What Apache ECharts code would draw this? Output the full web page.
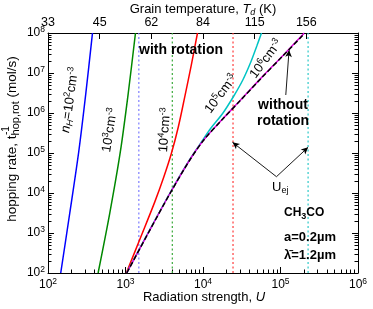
<!DOCTYPE html>
<html><head><meta charset="utf-8">
<script src="https://cdn.jsdelivr.net/npm/echarts@6/dist/echarts.min.js"></script>
<style>html,body{margin:0;padding:0;background:#fff}#c{width:373px;height:309px}</style>
</head><body><div id="c"></div>
<script>
// ---------------- data ----------------
const TEMP_LABELS = ['33', '45', '62', '84', '115', '156', ''];
const CURVE_N1E2 = [[146, 1e2], [191, 3.16e3], [249, 1.06e5], [308, 3.16e6], [375, 1e8]];
const CURVE_N1E3 = [[443, 1e2], [627, 3.16e3], [857, 1.06e5], [1086, 3.16e6], [1345, 1e8]];
const CURVE_N1E4 = [[1024, 1e2], [1575, 794], [2388, 6.0e3], [3120, 2.51e4], [3922, 1e5], [4800, 4.47e5], [5824, 2.57e6], [7063, 1.58e7], [8492, 1e8]];
const CURVE_N1E5 = [[1030, 1e2], [1950, 1e3], [3750, 1e4], [6690, 6.68e4], [9940, 2.11e5], [12610, 4.14e5], [18010, 9.84e5], [24970, 2.66e6], [32630, 6.68e6], [41390, 1.88e7], [49450, 4.73e7], [56870, 1e8]];
const CURVE_N1E6 = [[1036, 1e2], [1962, 1e3], [3772, 1e4], [6730, 6.68e4], [10200, 2.11e5], [17400, 6.68e5], [30550, 2.11e6], [55300, 7.24e6], [106200, 2.66e7], [203000, 1e8]];
const CURVE_NOROT = [[1039, 1e2], [1969, 1e3], [3784, 1e4], [6755, 6.68e4], [10240, 2.11e5], [17480, 6.68e5], [30730, 2.11e6], [55690, 7.24e6], [107100, 2.66e7], [205800, 9.83e7]];
const UEJ = { n1e2: 1486, n1e3: 4018, n1e4: 24400, n1e5: 227000 };
const Y_RANGE = [1e2, 1e8];
const X_RANGE = [1e2, 1e6];

// ---------------- helpers ----------------
const FONT = '"Liberation Sans", Arial, Helvetica, sans-serif';
const mctx = document.createElement('canvas').getContext('2d');
function tw(s, size, weight) { mctx.font = (weight || 'normal') + ' ' + size + 'px ' + FONT; return mctx.measureText(s).width; }

// minor (2..9 x decade) tick positions, expressed as exponents for overlay axes
const minorExp = (d0, d1) => { const a = []; for (let d = d0; d < d1; d++) for (let m = 2; m < 10; m++) a.push(d + Math.log10(m)); return a; };
const LX = [Math.log10(X_RANGE[0]), Math.log10(X_RANGE[1])];
const LY = [Math.log10(Y_RANGE[0]), Math.log10(Y_RANGE[1])];
function minorAxis(pos, ext, vals) {
  return {
    type: 'value', min: ext[0], max: ext[1], position: pos,
    axisLine: { show: false }, axisLabel: { show: false }, splitLine: { show: false },
    axisTick: { show: true, inside: true, length: 3.5, customValues: vals, lineStyle: { color: '#000', width: 1 } }
  };
}
const majorTick = { show: true, inside: true, length: 6, lineStyle: { color: '#000', width: 1 } };

const tickRich = {
  b: { fontSize: 12, lineHeight: 16, fontFamily: FONT, color: '#000' },
  s: { fontSize: 8.5, lineHeight: 9, verticalAlign: 'top', fontFamily: FONT, color: '#000' }
};
const expFmt = v => '{b|10}{s|' + Math.round(Math.log10(v)) + '}';

function curve(name, data, color, extra) {
  return Object.assign({
    name: name, type: 'line', data: data, showSymbol: false, smooth: 0.3,
    lineStyle: { color: color, width: 1.5 }, z: 5
  }, extra || {});
}
function vline(U, color) {
  return {
    type: 'line', data: [[U, Y_RANGE[0]], [U, Y_RANGE[1]]], showSymbol: false,
    lineStyle: { color: color, width: 1.2, type: [2, 2.5] }, z: 3
  };
}

const richT = {
  n: { fontSize: 13.5, fontFamily: FONT, color: '#000', lineHeight: 18 },
  sub: { fontSize: 11, fontFamily: FONT, color: '#000', lineHeight: 11, verticalAlign: 'bottom' },
  c: { fontSize: 13, fontFamily: FONT, color: '#000', lineHeight: 16 },
  ci: { fontSize: 13, fontFamily: FONT, fontStyle: 'italic', color: '#000', lineHeight: 16 },
  csup: { fontSize: 9, fontFamily: FONT, color: '#000', lineHeight: 9, verticalAlign: 'top' },
  cisub: { fontSize: 9, fontFamily: FONT, fontStyle: 'italic', color: '#000', lineHeight: 9, verticalAlign: 'bottom' },
  bold: { fontSize: 12, fontFamily: FONT, fontWeight: 'bold', color: '#000', lineHeight: 16 },
  bold13: { fontSize: 13, fontFamily: FONT, fontWeight: 'bold', color: '#000', lineHeight: 16 },
  bsub: { fontSize: 9, fontFamily: FONT, fontWeight: 'bold', color: '#000', lineHeight: 9, verticalAlign: 'bottom' },
  gsub: { fontSize: 9, fontFamily: FONT, color: '#555', lineHeight: 9, verticalAlign: 'bottom' }
};
function rtext(x, y, text, rotDeg, align) {
  return {
    type: 'text', x: x, y: y, rotation: (rotDeg || 0) * Math.PI / 180, z: 50,
    style: { text: text, rich: richT, align: align || 'center', verticalAlign: 'middle', fill: '#000' }
  };
}
function btext(x, y, text, size) {
  return {
    type: 'text', x: x, y: y, z: 50,
    style: { text: text, fontSize: size, fontWeight: 'bold', fontFamily: FONT, fill: '#000', align: 'center', verticalAlign: 'middle' }
  };
}

// y-axis title with stacked super/sub script
const yt1 = 'hopping rate, t', yt2 = 'hop,rot', yt3 = ' (mol/s)';
const yW = tw(yt1, 13.5) + tw(yt2, 11) + tw(yt3, 13.5);
const ySupX = -yW / 2 + tw(yt1, 13.5) + 0.5;

const chart = echarts.init(document.getElementById('c'), null, { renderer: 'canvas' });
chart.setOption({
  animation: false,
  backgroundColor: '#fff',
  grid: { left: 48, right: 15, top: 33, bottom: 36 },
  xAxis: [
    {
      type: 'log', logBase: 10, min: X_RANGE[0], max: X_RANGE[1], interval: 1, position: 'bottom',
      axisLine: { show: true, lineStyle: { color: '#000', width: 1 } },
      axisTick: majorTick,
      axisLabel: { formatter: expFmt, rich: tickRich, margin: 4 },
      splitLine: { show: false }
    },
    {
      type: 'value', min: 2, max: 6, interval: 2 / 3, position: 'top',
      axisLine: { show: true, lineStyle: { color: '#000', width: 1 } },
      axisTick: majorTick,
      axisLabel: { formatter: (v, i) => TEMP_LABELS[i] || '', fontSize: 12.5, fontFamily: FONT, color: '#000', margin: 4 },
      splitLine: { show: false }
    },
    minorAxis('bottom', LX, minorExp(LX[0], LX[1]))
  ],
  yAxis: [
    {
      type: 'log', logBase: 10, min: Y_RANGE[0], max: Y_RANGE[1], interval: 1, position: 'left',
      axisLine: { show: true, lineStyle: { color: '#000', width: 1 } },
      axisTick: majorTick,
      axisLabel: { formatter: expFmt, rich: tickRich, margin: 3 },
      splitLine: { show: false }
    },
    {
      type: 'log', logBase: 10, min: Y_RANGE[0], max: Y_RANGE[1], interval: 1, position: 'right',
      axisLine: { show: true, lineStyle: { color: '#000', width: 1 } },
      axisTick: majorTick,
      axisLabel: { show: false },
      splitLine: { show: false }
    },
    minorAxis('left', LY, minorExp(LY[0], LY[1])),
    minorAxis('right', LY, minorExp(LY[0], LY[1]))
  ],
  series: [
    vline(UEJ.n1e2, '#7c7cff'),
    vline(UEJ.n1e3, '#3aaa3a'),
    vline(UEJ.n1e4, '#ff3a3a'),
    vline(UEJ.n1e5, '#2cc8c8'),
    curve('1e2', CURVE_N1E2, '#0000ff'),
    curve('1e3', CURVE_N1E3, '#008800'),
    curve('1e4', CURVE_N1E4, '#ff0000'),
    curve('1e5', CURVE_N1E5, '#00c4c4'),
    curve('1e6', CURVE_N1E6, '#dd00dd', { z: 6 }),
    curve('norot', CURVE_NOROT, '#000', {
      z: 7, lineStyle: { color: '#000', width: 1.5, type: [5, 2.5] },
      markLine: {
        silent: true, symbolSize: [5, 7], animation: false, label: { show: false },
        lineStyle: { color: '#000', width: 0.9, type: 'solid' },
        data: [
          [{ coord: [117000, 2.82e6], symbol: 'none' }, { coord: [129000, 3.76e7], symbol: 'arrow' }],
          [{ coord: [88700, 2.556e4], symbol: 'none' }, { coord: [24040, 1.85e5], symbol: 'arrow' }],
          [{ coord: [88700, 2.556e4], symbol: 'none' }, { coord: [227000, 1.389e5], symbol: 'arrow' }]
        ]
      }
    })
  ],
  graphic: [
    rtext(203, 9, '{c|Grain temperature, }{ci|T}{cisub|d}{c| (K)}'),
    rtext(204, 297, '{c|Radiation strength, }{ci|U}'),
    {
      type: 'group', x: 12, y: 139, rotation: Math.PI / 2, z: 50,
      children: [
        { type: 'text', x: 0, y: 0, style: { text: '{n|' + yt1 + '}{sub|' + yt2 + '}{n|' + yt3 + '}', rich: richT, align: 'center', verticalAlign: 'middle' } },
        { type: 'text', x: ySupX, y: -6, style: { text: '-1', fontSize: 10, fontFamily: FONT, fill: '#000', align: 'left', verticalAlign: 'middle' } }
      ]
    },
    rtext(70, 100, '{ci|n}{cisub|H}{c|=10}{csup|2}{c|cm}{csup|-3}', 82),
    rtext(110, 130, '{c|10}{csup|3}{c|cm}{csup|-3}', 81),
    rtext(165, 130, '{c|10}{csup|4}{c|cm}{csup|-3}', 86),
    rtext(221, 94, '{c|10}{csup|5}{c|cm}{csup|-3}', 53),
    rtext(266, 59, '{c|10}{csup|6}{c|cm}{csup|-3}', 53),
    btext(181, 50, 'with rotation', 14),
    btext(283, 105, 'without', 14),
    btext(283, 121, 'rotation', 14),
    rtext(272, 187, '{c|U}{gsub|ej}', 0, 'left'),
    rtext(284, 213, '{bold|CH}{bsub|3}{bold|CO}', 0, 'left'),
    rtext(284, 237, '{bold13|a=0.2µm}', 0, 'left'),
    rtext(284, 255, '{bold13|λ\u0304=1.2µm}', 0, 'left')
  ]
});
</script>
</body></html>
